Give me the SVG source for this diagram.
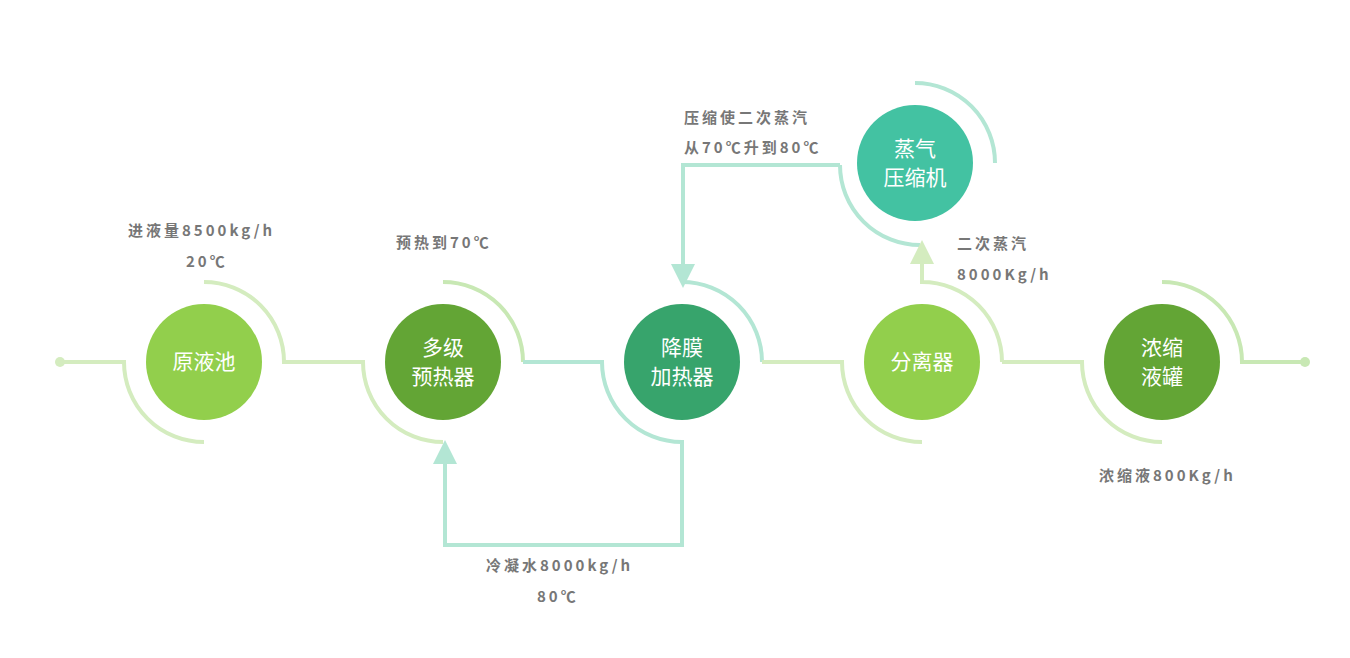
<svg xmlns="http://www.w3.org/2000/svg" width="1350" height="658" viewBox="0 0 1350 658">
<style>
.n{font-family:"Noto Sans CJK SC","Noto Sans",sans-serif;font-size:21px;fill:#fff;text-anchor:middle}
.l{font-family:"Noto Sans CJK SC","Noto Sans",sans-serif;font-size:15px;fill:#777;letter-spacing:3px;font-weight:bold}
.c{fill:none;stroke-width:4}
.g{stroke:#d4ecbf}.t{stroke:#b3e6d4}
</style>
<defs>
<marker id="at" markerWidth="6" markerHeight="6" refX="3" refY="3" orient="auto" markerUnits="strokeWidth"><path d="M0,0L6,3L0,6Z" fill="#b3e6d4"/></marker>
<marker id="ag" markerWidth="6" markerHeight="6" refX="3" refY="3" orient="auto" markerUnits="strokeWidth"><path d="M0,0L6,3L0,6Z" fill="#d4ecbf"/></marker>
</defs>
<g id="connectors">
<circle cx="60" cy="362" r="5" fill="#d4ecbf"/>
<path class="c g" d="M60,362H124A80,80 0 0 0 204,442"/>
<path class="c g" d="M204,282A80,80 0 0 1 284,362H363A80,80 0 0 0 443,442"/>
<path class="c" stroke="#c8e8b4" d="M443,282A80,80 0 0 1 523,362"/>
<path class="c t" d="M523,362H602A80,80 0 0 0 682,442V545H445V452" marker-end="url(#at)"/>
<path class="c t" d="M682,282A80,80 0 0 1 762,362"/>
<path class="c t" d="M840,165H683V276" marker-end="url(#at)"/>
<path class="c t" d="M840,165A80,80 0 0 0 920,245"/>
<path class="c t" d="M915,83A80,80 0 0 1 995,163"/>
<path class="c g" d="M762,362H842A80,80 0 0 0 922,442"/>
<path class="c g" d="M1002,362A80,80 0 0 0 922,282V252" marker-end="url(#ag)"/>
<path class="c g" d="M1002,362H1082A80,80 0 0 0 1162,442"/>
<path class="c" stroke="#c8e8b4" d="M1162,282A80,80 0 0 1 1242,362H1305"/>
<circle cx="1305" cy="362" r="5" fill="#c8e8b4"/>
</g>
<g id="n1"><circle cx="204" cy="362" r="58" fill="#92cf4c"/><text class="n" x="204" y="369">原液池</text></g>
<g id="n2"><circle cx="443" cy="362" r="58" fill="#63a535"/><text class="n" x="443" y="355">多级</text><text class="n" x="443" y="384">预热器</text></g>
<g id="n3"><circle cx="682" cy="362" r="58" fill="#37a46c"/><text class="n" x="682" y="355">降膜</text><text class="n" x="682" y="384">加热器</text></g>
<g id="n4"><circle cx="922" cy="362" r="58" fill="#92cf4c"/><text class="n" x="922" y="369">分离器</text></g>
<g id="n5"><circle cx="1162" cy="362" r="58" fill="#63a535"/><text class="n" x="1162" y="355">浓缩</text><text class="n" x="1162" y="384">液罐</text></g>
<g id="n6"><circle cx="915" cy="163" r="58" fill="#43c2a2"/><text class="n" x="915" y="156">蒸气</text><text class="n" x="915" y="185">压缩机</text></g>
<g id="labels">
<text class="l" x="128" y="236">进液量8500kg/h</text>
<text class="l" x="186" y="267">20℃</text>
<text class="l" x="396" y="248">预热到70℃</text>
<text class="l" x="684" y="123">压缩使二次蒸汽</text>
<text class="l" x="684" y="153">从70℃升到80℃</text>
<text class="l" x="957" y="249">二次蒸汽</text>
<text class="l" x="957" y="280">8000Kg/h</text>
<text class="l" x="1099" y="481">浓缩液800Kg/h</text>
<text class="l" x="486" y="571">冷凝水8000kg/h</text>
<text class="l" x="537" y="602">80℃</text>
</g>
</svg>
